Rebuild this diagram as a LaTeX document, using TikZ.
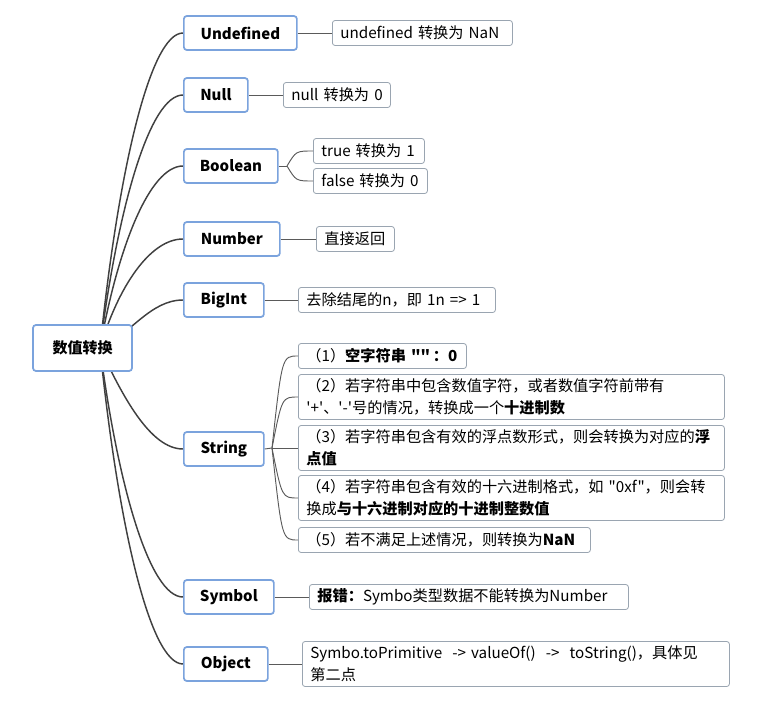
\documentclass[tikz,border=0pt]{standalone}
\usepackage{fontspec}
\setmainfont{Noto Sans CJK SC}[Ligatures=TeXOff]
\definecolor{bluec}{HTML}{7BA3DD}
\definecolor{leafc}{HTML}{9AA5B1}
\definecolor{linec}{HTML}{404040}
\definecolor{linecb}{HTML}{5A5A5A}
\newcommand\sq{\symbol{39}}
\newcommand\dq{\symbol{34}}
\begin{document}
\begin{tikzpicture}[x=0.75pt,y=-0.75pt,
  branch/.style={draw=bluec, line width=1.3pt, rounded corners=2.2pt, fill=white,
    font=\bfseries\fontsize{11.25pt}{13pt}\selectfont, inner sep=0pt, anchor=west, minimum height=25.5pt},
  leaf/.style={draw=leafc, line width=0.6pt, rounded corners=2pt, fill=white,
    font=\fontsize{11.4pt}{16.5pt}\selectfont, inner xsep=6pt, inner ysep=0pt, anchor=west, align=left},
  one/.style={minimum height=18.75pt},
  two/.style={minimum height=33.75pt},
  mainline/.style={draw=linec, line width=1.1pt},
  subline/.style={draw=linecb, line width=0.7pt}]
\useasboundingbox (0,0) rectangle (771,703);

% hub inside the root
\coordinate (hub) at (100,348);

% branch curves (drawn first, hidden under the root box)
\draw[mainline] (hub) .. controls (118,172) and (150,33) .. (183,33) coordinate (eU);
\draw[mainline] (hub) .. controls (118,206) and (150,95) .. (183,95) coordinate (eN);
\draw[mainline] (hub) .. controls (118,246) and (150,166) .. (183,166) coordinate (eB);
\draw[mainline] (hub) .. controls (118,287) and (150,239) .. (183,239) coordinate (eNu);
\draw[mainline] (hub) .. controls (130,335) and (150,300) .. (183,300) coordinate (eBi);
\draw[mainline] (hub) .. controls (122,395) and (150,449) .. (183,449) coordinate (eS);
\draw[mainline] (hub) .. controls (118,487) and (150,597) .. (183,597) coordinate (eSy);
\draw[mainline] (hub) .. controls (118,525) and (150,664) .. (183,664) coordinate (eO);

% root
\node[branch, anchor=center, minimum width=74.25pt, minimum height=34.5pt] (root) at (82.5,348) {数值转换};

% branches
\node[branch, minimum width=84.75pt] (undef) at (183,33) {Undefined};
\node[branch, minimum width=48pt] (null) at (183,95) {Null};
\node[branch, minimum width=70.5pt] (bool) at (183,166) {Boolean};
\node[branch, minimum width=72pt] (num) at (183,239) {Number};
\node[branch, minimum width=60pt] (big) at (183,300) {BigInt};
\node[branch, minimum width=60pt] (str) at (183,449) {String};
\node[branch, minimum width=67.5pt] (sym) at (183,597) {Symbol};
\node[branch, minimum width=63pt] (obj) at (183,664) {Object};

% leaves
\node[leaf, one, text width=123pt] (lU) at (332,33) {\mbox{undefined 转换为 NaN}};
\node[leaf, one, text width=68.25pt] (lN) at (283,95) {\mbox{null 转换为 0}};
\node[leaf, one, text width=71.25pt] (lT) at (313,151) {\mbox{true 转换为 1}};
\node[leaf, one, text width=73.5pt] (lF) at (313,181) {\mbox{false 转换为 0}};
\node[leaf, one, text width=46.5pt] (lNu) at (316,239) {\mbox{直接返回}};
\node[leaf, one, text width=135.75pt] (lBi) at (298,300) {\mbox{去除结尾的n，即 1n => 1}};
\node[leaf, one, text width=114pt] (s1) at (298,356) {\mbox{（1）\textbf{空字符串 \dq{}\dq{}\,：0}}};
\node[leaf, two, text width=307.5pt] (s2) at (298,397) {（2）若字符串中包含数值字符，或者数值字符前带有\\\sq{}+\sq{}、\sq{}-\sq{}号的情况，转换成一个\textbf{十进制数}};
\node[leaf, two, text width=307.5pt] (s3) at (298,448) {（3）若字符串包含有效的浮点数形式，则会转换为对应的\textbf{浮}\\\textbf{点值}};
\node[leaf, two, text width=307.5pt] (s4) at (298,498) {（4）若字符串包含有效的十六进制格式，如 \dq{}0xf\dq{}，则会转\\换成\textbf{与十六进制对应的十进制整数值}};
\node[leaf, one, text width=207pt] (s5) at (298,540) {\mbox{（5）若不满足上述情况，则转换为\textbf{NaN}}};
\node[leaf, one, text width=227.25pt] (lSy) at (309,597) {\mbox{\textbf{报错：}Symbo类型数据不能转换为Number}};
\node[leaf, two, text width=308.25pt] (lO) at (302,664) {Symbo.toPrimitive \ -> valueOf() \ -> \ toString()，具体见\\第二点};

% leaf connectors
\draw[subline] (undef.east) -- (lU.west);
\draw[subline] (null.east) -- (lN.west);
\coordinate (bj) at (287,166);
\draw[subline] (bool.east) -- (bj);
\draw[subline] (bj) .. controls (296,151) .. (lT.west);
\draw[subline] (bj) .. controls (296,181) .. (lF.west);
\draw[subline] (num.east) -- (lNu.west);
\draw[subline] (big.east) -- (lBi.west);
\coordinate (sj) at (272,448);
\draw[subline] (str.east) -- (sj);
\draw[subline] (sj) .. controls (282,356) .. (s1.west);
\draw[subline] (sj) .. controls (282,397) .. (s2.west);
\draw[subline] (sj) -- (s3.west);
\draw[subline] (sj) .. controls (282,498) .. (s4.west);
\draw[subline] (sj) .. controls (282,540) .. (s5.west);
\draw[subline] (sym.east) -- (lSy.west);
\draw[subline] (obj.east) -- (lO.west);
\end{tikzpicture}
\end{document}
